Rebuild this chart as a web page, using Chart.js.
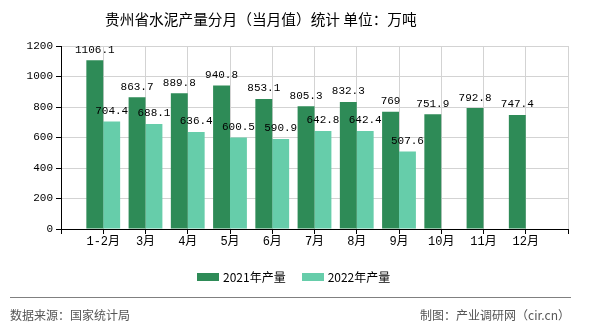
<!DOCTYPE html>
<html>
<head>
<meta charset="utf-8">
<script src="https://cdn.jsdelivr.net/npm/chart.js@4/dist/chart.umd.min.js"></script>
<style>
  html, body { margin: 0; padding: 0; background: #fff; }
  #wrap { position: relative; width: 590px; height: 330px; overflow: hidden; }
  #c { position: absolute; left: 0; top: 0; }
  .t { position: absolute; white-space: nowrap; font-family: "Noto Sans CJK SC", sans-serif; }
  #title { left: 105px; top: 9px; font-size: 14.7px; color: #000; line-height: 20px; }
  #legend { left: 197px; top: 268px; font-size: 12px; color: #000; line-height: 18px; display: flex; align-items: center; }
  #legend .box { display: inline-block; width: 22px; height: 8px; margin-right: 4px; }
  #legend .item { display: flex; align-items: center; margin-right: 16px; }
  #rule { position: absolute; left: 10px; top: 297px; width: 561px; height: 1px; background: #808080; }
  #src { left: 10px; top: 306px; font-size: 12px; color: #555; line-height: 18px; }
  #by { right: 20px; top: 306px; font-size: 12px; color: #555; line-height: 18px; }
</style>
</head>
<body>
<div id="wrap">
  <canvas id="c" width="590" height="330"></canvas>
  <div class="t" id="title">贵州省水泥产量分月（当月值）统计 单位：万吨</div>
  <div class="t" id="legend"></div>
  <div id="rule"></div>
  <div class="t" id="src">数据来源：国家统计局</div>
  <div class="t" id="by">制图：产业调研网（cir.cn）</div>
</div>
<script>
const categories = ['1-2月','3月','4月','5月','6月','7月','8月','9月','10月','11月','12月'];
const series2021 = [1106.1, 863.7, 889.8, 940.8, 853.1, 805.3, 832.3, 769, 751.9, 792.8, 747.4];
const series2022 = [704.4, 688.1, 636.4, 600.5, 590.9, 642.8, 642.4, 507.6, null, null, null];
const seriesNames = ['2021年产量', '2022年产量'];
const seriesColors = ['#2e8b57', '#66cdaa'];
const yTicks = [0, 200, 400, 600, 800, 1000, 1200];

// axis has an empty slot before the first and after the last category
const labels = [''].concat(categories, ['']);
const pad = arr => [null].concat(arr, [null]);

const valueLabels = {
  id: 'valueLabels',
  afterDatasetsDraw(chart) {
    const ctx = chart.ctx;
    ctx.save();
    ctx.font = '11px "Liberation Mono", "DejaVu Sans Mono", monospace';
    ctx.fillStyle = '#000';
    ctx.textAlign = 'center';
    ctx.textBaseline = 'bottom';
    chart.data.datasets.forEach((ds, di) => {
      const meta = chart.getDatasetMeta(di);
      meta.data.forEach((el, i) => {
        const v = ds.data[i];
        if (v === null || v === undefined) return;
        ctx.fillText(String(v), el.x, el.y - 5);
      });
    });
    ctx.restore();
  }
};

const chart = new Chart(document.getElementById('c'), {
  type: 'bar',
  data: {
    labels: labels,
    datasets: [
      { label: seriesNames[0], data: pad(series2021), backgroundColor: seriesColors[0] },
      { label: seriesNames[1], data: pad(series2022), backgroundColor: seriesColors[1] }
    ]
  },
  options: {
    responsive: false,
    maintainAspectRatio: false,
    animation: false,
    layout: { padding: { left: 0, right: 22, top: 46, bottom: 71 } },
    datasets: { bar: { categoryPercentage: 0.8, barPercentage: 1.0 } },
    plugins: { legend: { display: false }, tooltip: { enabled: false }, title: { display: false } },
    scales: {
      x: {
        offset: false,
        grid: { color: '#d3d3d3', tickColor: '#000', tickLength: 5, offset: false },
        border: { color: '#000', width: 1 },
        ticks: {
          autoSkip: false, maxRotation: 0, padding: 1, color: '#000',
          font: { family: '"Liberation Mono", "Noto Sans CJK SC", monospace', size: 12 }
        },
        afterFit(scale) { scale.height = 30; }
      },
      y: {
        min: yTicks[0], max: yTicks[yTicks.length - 1],
        afterBuildTicks(scale) { scale.ticks = yTicks.map(v => ({ value: v })); },
        grid: { color: '#d3d3d3', tickColor: '#000', tickLength: 5 },
        border: { color: '#000', width: 1 },
        ticks: {
          padding: 3, color: '#000',
          callback: v => String(v),
          font: { family: '"Liberation Mono", "DejaVu Sans Mono", monospace', size: 11 }
        },
        afterFit(scale) { scale.width = 61; }
      }
    }
  },
  plugins: [valueLabels]
});

// HTML legend built from the dataset definitions
const lg = document.getElementById('legend');
chart.data.datasets.forEach(ds => {
  const item = document.createElement('span');
  item.className = 'item';
  const box = document.createElement('span');
  box.className = 'box';
  box.style.background = ds.backgroundColor;
  const txt = document.createElement('span');
  txt.textContent = ds.label;
  item.appendChild(box); item.appendChild(txt);
  lg.appendChild(item);
});
</script>
</body>
</html>
